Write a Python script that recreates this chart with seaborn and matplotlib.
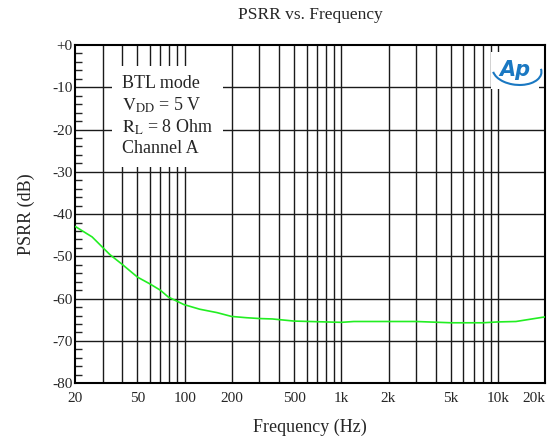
import numpy as np
import pandas as pd
import matplotlib
matplotlib.use("Agg")
import matplotlib.pyplot as plt
import matplotlib.ticker as mticker
from matplotlib.patches import Arc
import seaborn as sns

# PSRR curve
freq_hz = [20, 25.7, 33.4, 39.7, 50, 60, 70, 78.6, 99, 125, 161, 199, 247, 300, 363,
           500, 1000, 1200, 2000, 3000, 5000, 8000, 10000, 13000, 20000]
psrr_db = [-42.9, -45.4, -49.6, -51.8, -54.9, -56.5, -58.0, -59.6, -61.4, -62.5, -63.3,
           -64.2, -64.5, -64.7, -64.8, -65.3, -65.6, -65.4, -65.4, -65.4, -65.7, -65.7,
           -65.5, -65.4, -64.3]

x_ticks = [20, 50, 100, 200, 500, 1000, 2000, 5000, 10000, 20000]
x_tick_labels = ["20", "50", "100", "200", "500", "1k", "2k", "5k", "10k", "20k"]
y_ticks = [0, -10, -20, -30, -40, -50, -60, -70, -80]
y_tick_labels = ["+0", "-10", "-20", "-30", "-40", "-50", "-60", "-70", "-80"]

df = pd.DataFrame({"Frequency": freq_hz, "PSRR": psrr_db})

sns.set_style("white")
plt.rcParams["font.family"] = ["Liberation Serif", "DejaVu Serif"]
plt.rcParams["mathtext.fontset"] = "stix"

fig = plt.figure(figsize=(5.48, 4.41), dpi=100)
ax = fig.add_axes([0.137, 0.131, 0.858, 0.767])

# vertical grid at every log position
for dec in [10, 100, 1000, 10000]:
    for m in range(1, 10):
        f = dec * m
        if 20 < f < 20000:
            ax.axvline(f, color="#1a1a1a", lw=1.0, zorder=1)
for y in y_ticks[1:-1]:
    ax.axhline(y, color="#1a1a1a", lw=1.0, zorder=1)

sns.lineplot(data=df, x="Frequency", y="PSRR", color="#22ee22", lw=1.2, ax=ax, zorder=3)

ax.set_xscale("log")
ax.set_xlim(20, 20000)
ax.set_ylim(-80, 0)
ax.xaxis.set_major_locator(mticker.FixedLocator(x_ticks))
ax.xaxis.set_minor_locator(mticker.NullLocator())
ax.set_xticklabels(x_tick_labels)
ax.get_xticklabels()[-1].set_horizontalalignment("right")
ax.yaxis.set_major_locator(mticker.FixedLocator(y_ticks))
ax.set_yticklabels(y_tick_labels)
ax.yaxis.set_minor_locator(mticker.MultipleLocator(2))
ax.tick_params(axis="x", length=0, pad=6, labelsize=11)
ax.tick_params(axis="y", which="major", length=0, pad=2, labelsize=11)
ax.tick_params(axis="y", which="minor", direction="in", length=5, width=1, left=True)

for s in ax.spines.values():
    s.set_color("black")
    s.set_linewidth(1.5)

ax.set_xlabel("Frequency (Hz)", fontsize=13, labelpad=10)
ax.set_ylabel("PSRR (dB)", fontsize=13, labelpad=12)
ax.set_title("PSRR vs. Frequency", fontsize=12.5, pad=19)

ax.text(0.10, 0.91,
        "BTL mode\n$\\mathrm{V_{DD}}$ = 5 V\n$\\mathrm{R_L}$ = 8 Ohm\nChannel A",
        transform=ax.transAxes, va="top", ha="left", fontsize=13, linespacing=1.2,
        zorder=5, bbox=dict(facecolor="white", edgecolor="none", pad=7))

# Ap logo
ax.text(0.935, 0.925, "Ap", transform=ax.transAxes, ha="center", va="center",
        fontsize=15, color="#1a78c2", style="italic", fontweight="bold",
        family="DejaVu Sans", zorder=6,
        bbox=dict(facecolor="white", edgecolor="none", pad=6))
ax.add_patch(Arc((0.94, 0.925), 0.105, 0.085, angle=-15, theta1=200, theta2=20,
                 transform=ax.transAxes, color="#1a78c2", lw=1.5, zorder=7))

fig.savefig("out.png", dpi=100)
